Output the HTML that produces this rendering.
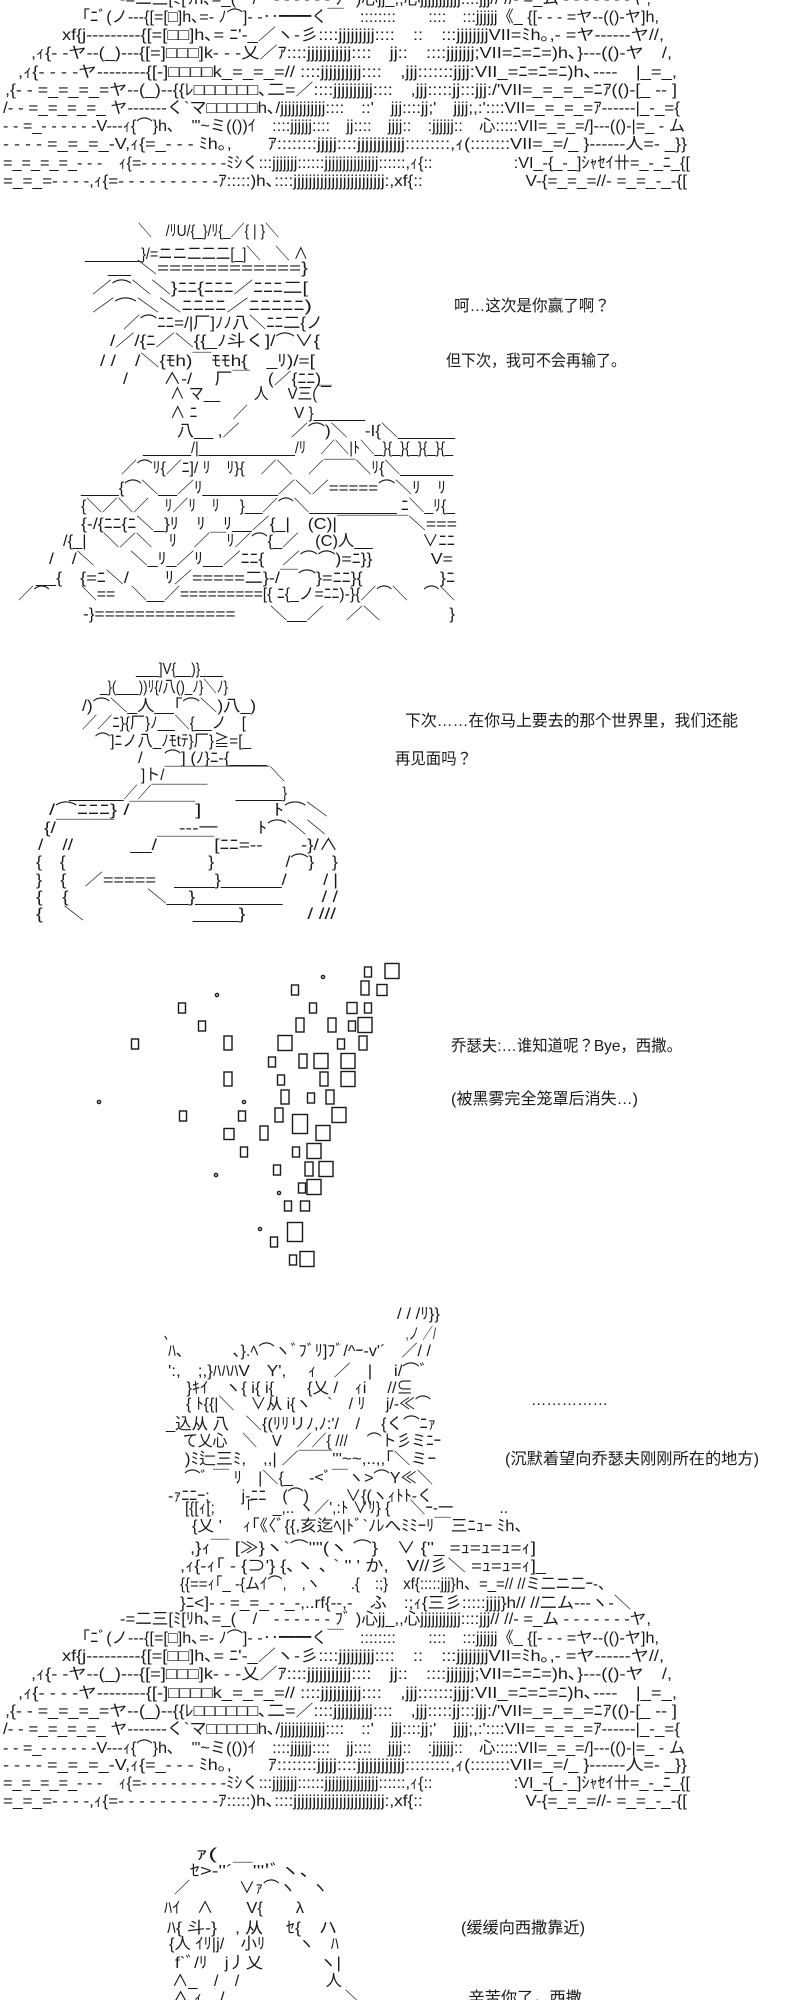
<!DOCTYPE html>
<html><head><meta charset="utf-8"><style>
html,body{margin:0;padding:0;background:#fff;width:800px;height:2000px;overflow:hidden}
svg{display:block}
text{font-family:"Liberation Sans","Noto Sans CJK JP",sans-serif;font-size:16px;fill:#1a1a1a;white-space:pre}
.c{font-size:16px;fill:#1a1a1a}
</style></head><body>
<svg width="800" height="2000" viewBox="0 0 800 2000" xmlns="http://www.w3.org/2000/svg" xml:space="preserve">
<g lengthAdjust="spacingAndGlyphs">
<!-- Block 1 -->
<text x="120" y="4" textLength="531" lengthAdjust="spacingAndGlyphs">-=二三[ﾐ[ﾘh､=_(　/　- - - - - - ﾌﾞ )心jj_,,心jjjjjjjjjjj::::jjj// //- =_ム - - - - - - -ヤ,</text>
<text x="82" y="22" textLength="577" lengthAdjust="spacingAndGlyphs">｢ﾆﾞ(ノ---{[=[□]h､=- ﾉ⌒]- -‥━━く￣　::::::::　　::::　:::jjjjjj《_ {[- - - =ヤ--(()-ヤ]h,</text>
<text x="62" y="40" textLength="602" lengthAdjust="spacingAndGlyphs">xf{j---------{[=[□□]h､= ﾆ'-_／ヽ-彡::::jjjjjjjjj::::　::　:::jjjjjjjjVII=ﾐh｡,- =ヤ------ヤ//,</text>
<text x="31" y="58" textLength="641" lengthAdjust="spacingAndGlyphs">,ｨ{- -ヤ--(_)---{[=]□□□]k- - -乂／ｱ::::jjjjjjjjjjj::::　jj::　::::jjjjjjj;VII=ﾆ=ﾆ=)h､}---(()-ヤ　/,</text>
<text x="18" y="77" textLength="659" lengthAdjust="spacingAndGlyphs">,ｨ{- - - -ヤ--------{[-]□□□□k_=_=_=// ::::jjjjjjjjjj::::　,jjj:::::::jjjj:VII_=ﾆ=ﾆ=ﾆ)h､----　|_=_,</text>
<text x="5" y="95" textLength="672" lengthAdjust="spacingAndGlyphs">,{- - =_=_=_=ヤ--(_)--{{ﾚ□□□□□□､二=／::::jjjjjjjjjj::::　,jjj:::::jj:::jjj:/'VII=_=_=_=ﾆｱ(()-[_ -- ]</text>
<text x="3" y="113" textLength="677" lengthAdjust="spacingAndGlyphs">/- - =_=_=_=_ ヤ-------く`マ□□□□□h､/jjjjjjjjjjjj::::　::'　jjj::::jj;'　jjjj;,:'::::VII=_=_=_=ｱ------|_-_={</text>
<text x="3" y="131" textLength="682" lengthAdjust="spacingAndGlyphs">- - =_- - - - - -V---ｨ{⌒}h､　'"~ミ(())ｲ　::::jjjjjj::::　jj::::　jjjj::　:jjjjjj::　心:::::VII=_=_=/]---(()-|=_ - ム</text>
<text x="3" y="149" textLength="684" lengthAdjust="spacingAndGlyphs">- - - - =_=_=_-V,ｨ{=_- - - ﾐh｡,　　ｱ::::::::jjjjj::::jjjjjjjjjjjj:::::::::,ｨ(::::::::VII=_=/_ }------人=- _}}</text>
<text x="3" y="168" textLength="687" lengthAdjust="spacingAndGlyphs">=_=_=_=_- - -　ｨ{=- - - - - - - - -ﾐｼく:::jjjjjjj::::::jjjjjjjjjjjjjjj::::::,ｨ{::　　　　　:VI_-{_-_]ｼｬｾｲ卄=_-_ﾆ_{[</text>
<text x="3" y="186" textLength="684" lengthAdjust="spacingAndGlyphs">=_=_=- - - -,ｨ{=- - - - - - - - - -ｱ:::::)h､::::jjjjjjjjjjjjjjjjjjjjjjjj:,xf{::　　　　　　V-{=_=_=//- =_=_-_-{[</text>

<!-- Block 2 -->
<text x="138" y="236" textLength="141" lengthAdjust="spacingAndGlyphs">＼　/ﾘU/{_}/ﾘ{_／{ | }＼</text>
<text x="85" y="259" textLength="223" lengthAdjust="spacingAndGlyphs">_______}/=ニニ二二二[_]＼　＼ ∧</text>
<text x="108" y="273" textLength="200" lengthAdjust="spacingAndGlyphs">__ ＼============}</text>
<text x="92" y="293" textLength="216" lengthAdjust="spacingAndGlyphs">／⌒＼＼}ﾆﾆ{ﾆﾆﾆ／ﾆﾆﾆ二[</text>
<text x="92" y="311" textLength="220" lengthAdjust="spacingAndGlyphs">／⌒＼＼ﾆﾆﾆﾆ／ﾆﾆﾆﾆﾆ)</text>
<text x="123" y="328" textLength="200" lengthAdjust="spacingAndGlyphs">／⌒ﾆﾆ=/|厂]ﾉﾉ八＼ﾆﾆ二{ノ</text>
<text x="110" y="346" textLength="210" lengthAdjust="spacingAndGlyphs">/／/{ﾆ／＼{{_ﾉ斗く]/⌒∨{</text>
<text x="100" y="366" textLength="215" lengthAdjust="spacingAndGlyphs">/ /　/＼{ﾓh)￣ﾓﾓh{　_ﾘ)/=[</text>
<text x="123" y="384" textLength="208" lengthAdjust="spacingAndGlyphs">/　　∧-/　 厂￣　(／{ﾆﾆ)_</text>
<text x="170" y="399" textLength="162" lengthAdjust="spacingAndGlyphs">∧ マ__　　 人　 V三(￣</text>
<text x="170" y="418" textLength="195" lengthAdjust="spacingAndGlyphs">∧ ﾆ　　 ／　　　V }______</text>
<text x="177" y="436" textLength="278" lengthAdjust="spacingAndGlyphs">八__ ,／　　　／⌒)＼　-I{＼______</text>
<text x="143" y="453" textLength="310" lengthAdjust="spacingAndGlyphs">______/|____________/ﾘ　／＼|ﾄ＼_}{_}{_}{_}{_</text>
<text x="121" y="473" textLength="332" lengthAdjust="spacingAndGlyphs">／⌒ﾘ{／ﾆ]/ ﾘ　ﾘ}{　／＼　／￣￣＼ﾘ{＼______</text>
<text x="81" y="493" textLength="365" lengthAdjust="spacingAndGlyphs">____{⌒＼__／ﾘ________／＼／=====⌒＼ﾘ　ﾘ</text>
<text x="81" y="511" textLength="374" lengthAdjust="spacingAndGlyphs">{＼／＼／　ﾘ／ﾘ　ﾘ　 }__／⌒＼__________ ﾆ＼_ﾘ{_</text>
<text x="81" y="529" textLength="376" lengthAdjust="spacingAndGlyphs">{-/{ﾆﾆ{ﾆ＼_}ﾘ　ﾘ　ﾘ__／{_|　(C)|￣￣￣￣＼===</text>
<text x="63" y="546" textLength="392" lengthAdjust="spacingAndGlyphs">/{_|　＼／＼　ﾘ　／￣ﾘ／⌒{_／　(C)人__　　　∨ﾆﾆ</text>
<text x="49" y="564" textLength="404" lengthAdjust="spacingAndGlyphs">/　/＼　　＼_ﾘ_／ﾘ__／ﾆﾆ{　／⌒⌒)=ﾆ}}　　　 V=</text>
<text x="36" y="583" textLength="419" lengthAdjust="spacingAndGlyphs">__{　{=ﾆ＼/　　ﾘ／=====二}-/￣⌒}=ﾆﾆ}{　　　　 }ﾆ</text>
<text x="18" y="599" textLength="437" lengthAdjust="spacingAndGlyphs">／⌒　　＼==　＼__／=========[{ ﾆ{_ノ=ﾆﾆ)-}{／⌒＼　⌒＼</text>
<text x="83" y="619" textLength="372" lengthAdjust="spacingAndGlyphs">-}==============　　＼__／　 ／＼　　　　}</text>

<text class="c" x="454" y="311" textLength="156" lengthAdjust="spacingAndGlyphs">呵…这次是你赢了啊？</text>
<text class="c" x="446" y="366" textLength="180" lengthAdjust="spacingAndGlyphs">但下次，我可不会再输了。</text>

<!-- Block 3 -->
<text x="136" y="674" textLength="87" lengthAdjust="spacingAndGlyphs">___]V{__)}___</text>
<text x="100" y="692" textLength="128" lengthAdjust="spacingAndGlyphs">_}(___))ﾘ{/八()_ﾉ}＼ﾉ}</text>
<text x="82" y="711" textLength="174" lengthAdjust="spacingAndGlyphs">/)⌒＼_人__｢⌒＼)八_)</text>
<text x="82" y="728" textLength="164" lengthAdjust="spacingAndGlyphs">／／ﾆ}{厂}ﾉ__＼{__ノ　[</text>
<text x="95" y="746" textLength="156" lengthAdjust="spacingAndGlyphs">⌒]ﾆノ八_ﾉﾓtﾃ}厂}≧=[_</text>
<text x="138" y="763" textLength="129" lengthAdjust="spacingAndGlyphs">/　 ⌒] (ﾉ}ﾆ-{____</text>
<text x="141" y="780" textLength="144" lengthAdjust="spacingAndGlyphs">]ト/￣￣￣￣￣￣￣＼</text>
<text x="69" y="798" textLength="218" lengthAdjust="spacingAndGlyphs">_______／／￣￣￣￣　　______}</text>
<text x="49" y="815" textLength="279" lengthAdjust="spacingAndGlyphs">/⌒ﾆﾆﾆ} /￣￣￣]　　　 ﾄ⌒＼</text>
<text x="44" y="833" textLength="282" lengthAdjust="spacingAndGlyphs">{/￣￣￣　　　 ---一　　ﾄ⌒＼＼</text>
<text x="38" y="850" textLength="300" lengthAdjust="spacingAndGlyphs">/　//　　　__/￣￣￣[ﾆﾆ=--　　-}/∧</text>
<text x="36" y="867" textLength="302" lengthAdjust="spacingAndGlyphs">{　{　　　　　　　　}　　　　/⌒}　}</text>
<text x="36" y="885" textLength="302" lengthAdjust="spacingAndGlyphs">}　{　／=====　____}______/　　/ |</text>
<text x="36" y="902" textLength="302" lengthAdjust="spacingAndGlyphs">{　{　　　　＼__}________　　/ /</text>
<text x="36" y="919" textLength="300" lengthAdjust="spacingAndGlyphs">{　＼　　　　　 ____}　　　/ ///</text>

<text class="c" x="405" y="726" textLength="333" lengthAdjust="spacingAndGlyphs">下次……在你马上要去的那个世界里，我们还能</text>
<text class="c" x="395" y="764" textLength="77" lengthAdjust="spacingAndGlyphs">再见面吗？</text>

<!-- Block 4 squares -->
<g fill="none" stroke="#1a1a1a" stroke-width="1.4">
<circle cx="323" cy="977" r="1.6"/><rect x="364.5" y="967" width="7" height="10"/><rect x="385" y="963.5" width="14" height="15"/>
<circle cx="217" cy="995" r="1.6"/><rect x="291.5" y="985" width="7" height="10"/><rect x="361" y="981" width="8" height="14"/><rect x="377" y="984.5" width="10" height="11"/>
<rect x="178.5" y="1003" width="7" height="10"/><rect x="309.5" y="1003" width="7" height="10"/><rect x="347" y="1002.5" width="10" height="11"/><rect x="364.5" y="1003" width="7" height="10"/>
<rect x="198.5" y="1021" width="7" height="10"/><rect x="296" y="1018" width="8" height="14"/><rect x="328" y="1018" width="8" height="14"/><rect x="348.5" y="1021" width="7" height="10"/><rect x="358" y="1017.5" width="14" height="15"/>
<rect x="131.5" y="1039" width="7" height="10"/><rect x="224" y="1036" width="8" height="14"/><rect x="278" y="1035.5" width="14" height="15"/><rect x="337.5" y="1039" width="7" height="10"/><rect x="359" y="1036" width="8" height="14"/>
<rect x="268.5" y="1057" width="7" height="10"/><rect x="299" y="1054" width="8" height="14"/><rect x="314" y="1053.5" width="14" height="15"/><rect x="341" y="1053.5" width="14" height="15"/>
<rect x="224" y="1072" width="8" height="14"/><rect x="277.5" y="1075" width="7" height="10"/><rect x="320" y="1072" width="8" height="14"/><rect x="341" y="1071.5" width="14" height="15"/>
<circle cx="99" cy="1102" r="1.6"/><circle cx="244" cy="1102" r="1.6"/><rect x="281" y="1090" width="8" height="14"/><rect x="307.5" y="1093" width="7" height="10"/><rect x="326" y="1090" width="8" height="14"/>
<rect x="179.5" y="1111" width="7" height="10"/><rect x="238.5" y="1111" width="7" height="10"/><rect x="275" y="1108" width="8" height="14"/><rect x="292.5" y="1114.5" width="15" height="19"/><rect x="332" y="1107.5" width="14" height="15"/>
<rect x="224" y="1128.5" width="10" height="11"/><rect x="260" y="1126" width="8" height="14"/><rect x="316" y="1125.5" width="14" height="15"/>
<rect x="240.5" y="1147" width="7" height="10"/><rect x="292.5" y="1147" width="7" height="10"/><rect x="307" y="1143.5" width="14" height="15"/>
<circle cx="216" cy="1175" r="1.6"/><rect x="273.5" y="1165" width="7" height="10"/><rect x="305" y="1162" width="8" height="14"/><rect x="319" y="1161.5" width="14" height="15"/>
<circle cx="279" cy="1193" r="1.6"/><rect x="298.5" y="1183" width="7" height="10"/><rect x="307" y="1179.5" width="14" height="15"/>
<rect x="284.5" y="1201" width="7" height="10"/><rect x="300.5" y="1201" width="9" height="10"/>
<circle cx="260" cy="1229" r="1.6"/><rect x="287.5" y="1222.5" width="15" height="19"/>
<rect x="270.5" y="1237" width="7" height="10"/>
<rect x="289.5" y="1255" width="7" height="10"/><rect x="300" y="1251.5" width="14" height="15"/>
</g>
<text class="c" x="451" y="1051" textLength="231" lengthAdjust="spacingAndGlyphs">乔瑟夫:…谁知道呢？Bye，西撒。</text>
<text class="c" x="451" y="1104" textLength="187" lengthAdjust="spacingAndGlyphs">(被黑雾完全笼罩后消失…)</text>

<!-- Block 5 -->
<text x="397" y="1319" textLength="43" lengthAdjust="spacingAndGlyphs">/ / /ﾘ}}</text>
<text x="164" y="1339" textLength="272" lengthAdjust="spacingAndGlyphs">､　　　　　　　　　　　　　　　　　　　　　　,ノ ／/</text>
<text x="168" y="1356" textLength="263" lengthAdjust="spacingAndGlyphs">ﾊ､　　　、}.ﾍ⌒ヽﾞﾌﾞﾘ]ﾌﾞ/^ｰ-v'´　／/ /</text>
<text x="168" y="1376" textLength="260" lengthAdjust="spacingAndGlyphs">':,　;,}ﾊﾊﾊV　Y',　 ｨ　／　|　 i/⌒ﾞ</text>
<text x="170" y="1393" textLength="243" lengthAdjust="spacingAndGlyphs">　}ｷｲ　ヽ{ i{ i{　　{乂 /　ｨi　 //⊆</text>
<text x="170" y="1409" textLength="261" lengthAdjust="spacingAndGlyphs">　{ ﾄ{{|＼　∨从 i{ヽ　`　/ ﾘ　 j/-≪⌒</text>
<text x="166" y="1429" textLength="270" lengthAdjust="spacingAndGlyphs">_込从 八　＼{(ﾘﾘリﾉ,ﾉ:'/　/　 {く⌒ﾆｧ</text>
<text x="168" y="1446" textLength="273" lengthAdjust="spacingAndGlyphs">　て乂心　＼　V　／／{ ///　 ⌒ト彡ミﾆｰ</text>
<text x="168" y="1464" textLength="268" lengthAdjust="spacingAndGlyphs">　)ﾐ辷三ﾐ,　,,| ／￣￣'''~~,..,,｢＼ミｰ</text>
<text x="168" y="1483" textLength="265" lengthAdjust="spacingAndGlyphs">　⌒ﾞ ￣ ﾘ　|＼{_　-&lt;ﾞ￣ヽ&gt;⌒Y≪＼</text>
<text x="168" y="1501" textLength="265" lengthAdjust="spacingAndGlyphs">-ｧﾆﾆｰ;　　j-ﾆﾆ　(⌒)　　 ∨{(ヽｨﾄﾄ-く</text>
<text x="185" y="1513" textLength="323" lengthAdjust="spacingAndGlyphs">[{[ｨ[;　　｢　 _,.. ヽ／',:ﾄ ∨ﾘ} {　 ＼ｰ‐一　　　..</text>
<text x="192" y="1531" textLength="339" lengthAdjust="spacingAndGlyphs">{乂 '　 ｨ｢《〈ﾞ{{,亥迄ﾍ|ﾄﾞ`ﾉﾚへﾐﾐｰﾘ￣三ﾆｭｰ ﾐh、</text>
<text x="190" y="1553" textLength="346" lengthAdjust="spacingAndGlyphs">,}ｨ￣ [≫}ヽ`⌒''''(ヽ ⌒}　∨ {''_ =ｭ=ｭ=ｭ=ｨ]</text>
<text x="180" y="1571" textLength="366" lengthAdjust="spacingAndGlyphs">,ｨ{-ｨ｢ - {⊃'} {､ヽ ､ ` '' ' か,　V//彡＼ =ｭ=ｭ=ｨ]_</text>
<text x="180" y="1589" textLength="433" lengthAdjust="spacingAndGlyphs">{{==ｨ｢_ -{ムｲ⌒,　,ヽ　　.{　:;}　xf{:::::jjj}h、=_=// //ミ二ニ二ｰ-、</text>
<text x="180" y="1608" textLength="451" lengthAdjust="spacingAndGlyphs">}ﾆ&lt;]- - =_=_- -_-,..rf{--,-　ふ　:;ｨ{三彡:::::jjjj}h// //二ム---ヽ-＼</text>
<text x="120" y="1624" textLength="531" lengthAdjust="spacingAndGlyphs">-=二三[ﾐ[ﾘh､=_(　/　- - - - - - ﾌﾞ )心jj_,,心jjjjjjjjjjj::::jjj// //- =_ム - - - - - - -ヤ,</text>
<text x="82" y="1643" textLength="577" lengthAdjust="spacingAndGlyphs">｢ﾆﾞ(ノ---{[=[□]h､=- ﾉ⌒]- -‥━━く￣　::::::::　　::::　:::jjjjjj《_ {[- - - =ヤ--(()-ヤ]h,</text>
<text x="62" y="1661" textLength="602" lengthAdjust="spacingAndGlyphs">xf{j---------{[=[□□]h､= ﾆ'-_／ヽ-彡::::jjjjjjjjj::::　::　:::jjjjjjjjVII=ﾐh｡,- =ヤ------ヤ//,</text>
<text x="31" y="1679" textLength="641" lengthAdjust="spacingAndGlyphs">,ｨ{- -ヤ--(_)---{[=]□□□]k- - -乂／ｱ::::jjjjjjjjjjj::::　jj::　::::jjjjjjj;VII=ﾆ=ﾆ=)h､}---(()-ヤ　/,</text>
<text x="18" y="1698" textLength="659" lengthAdjust="spacingAndGlyphs">,ｨ{- - - -ヤ--------{[-]□□□□k_=_=_=// ::::jjjjjjjjjj::::　,jjj:::::::jjjj:VII_=ﾆ=ﾆ=ﾆ)h､----　|_=_,</text>
<text x="5" y="1716" textLength="672" lengthAdjust="spacingAndGlyphs">,{- - =_=_=_=ヤ--(_)--{{ﾚ□□□□□□､二=／::::jjjjjjjjjj::::　,jjj:::::jj:::jjj:/'VII=_=_=_=ﾆｱ(()-[_ -- ]</text>
<text x="3" y="1734" textLength="677" lengthAdjust="spacingAndGlyphs">/- - =_=_=_=_ ヤ-------く`マ□□□□□h､/jjjjjjjjjjjj::::　::'　jjj::::jj;'　jjjj;,:'::::VII=_=_=_=ｱ------|_-_={</text>
<text x="3" y="1753" textLength="682" lengthAdjust="spacingAndGlyphs">- - =_- - - - - -V---ｨ{⌒}h､　'"~ミ(())ｲ　::::jjjjjj::::　jj::::　jjjj::　:jjjjjj::　心:::::VII=_=_=/]---(()-|=_ - ム</text>
<text x="3" y="1770" textLength="684" lengthAdjust="spacingAndGlyphs">- - - - =_=_=_-V,ｨ{=_- - - ﾐh｡,　　ｱ::::::::jjjjj::::jjjjjjjjjjjj:::::::::,ｨ(::::::::VII=_=/_ }------人=- _}}</text>
<text x="3" y="1788" textLength="687" lengthAdjust="spacingAndGlyphs">=_=_=_=_- - -　ｨ{=- - - - - - - - -ﾐｼく:::jjjjjjj::::::jjjjjjjjjjjjjjj::::::,ｨ{::　　　　　:VI_-{_-_]ｼｬｾｲ卄=_-_ﾆ_{[</text>
<text x="3" y="1806" textLength="684" lengthAdjust="spacingAndGlyphs">=_=_=- - - -,ｨ{=- - - - - - - - - -ｱ:::::)h､::::jjjjjjjjjjjjjjjjjjjjjjjj:,xf{::　　　　　　V-{=_=_=//- =_=_-_-{[</text>

<text class="c" x="531" y="1405" textLength="77" lengthAdjust="spacingAndGlyphs">……………</text>
<text class="c" x="505" y="1464" textLength="254" lengthAdjust="spacingAndGlyphs">(沉默着望向乔瑟夫刚刚所在的地方)</text>

<!-- Block 6 -->
<text x="195" y="1859" textLength="22" lengthAdjust="spacingAndGlyphs">ｧ(</text>
<text x="190" y="1876" textLength="120" lengthAdjust="spacingAndGlyphs">ｾ&gt;-''´￣''''ﾞヽ､</text>
<text x="174" y="1893" textLength="154" lengthAdjust="spacingAndGlyphs">／　　　∨ｧ⌒ヽ　ヽ</text>
<text x="164" y="1913" textLength="140" lengthAdjust="spacingAndGlyphs">ﾊｲ　∧　　V{　　λ</text>
<text x="167" y="1933" textLength="170" lengthAdjust="spacingAndGlyphs">ﾊ{ 斗-}　, 从　 ｾ{　ハ</text>
<text x="169" y="1949" textLength="170" lengthAdjust="spacingAndGlyphs">{人 ｲﾘ|j/　小ﾘ　　ヽ　ﾊ</text>
<text x="175" y="1968" textLength="166" lengthAdjust="spacingAndGlyphs">f`ﾞ/ﾘ　j丿乂　　　 ヽ|</text>
<text x="172" y="1986" textLength="170" lengthAdjust="spacingAndGlyphs">∧_　/　/　　　　　 人</text>
<text x="172" y="2003" textLength="190" lengthAdjust="spacingAndGlyphs">∧ ｨ　/　　　　　　　＼</text>

<text class="c" x="461" y="1933" textLength="124" lengthAdjust="spacingAndGlyphs">(缓缓向西撒靠近)</text>
<text class="c" x="436" y="2003" textLength="146" lengthAdjust="spacingAndGlyphs">……辛苦你了，西撒</text>
</g>
</svg>
</body></html>
